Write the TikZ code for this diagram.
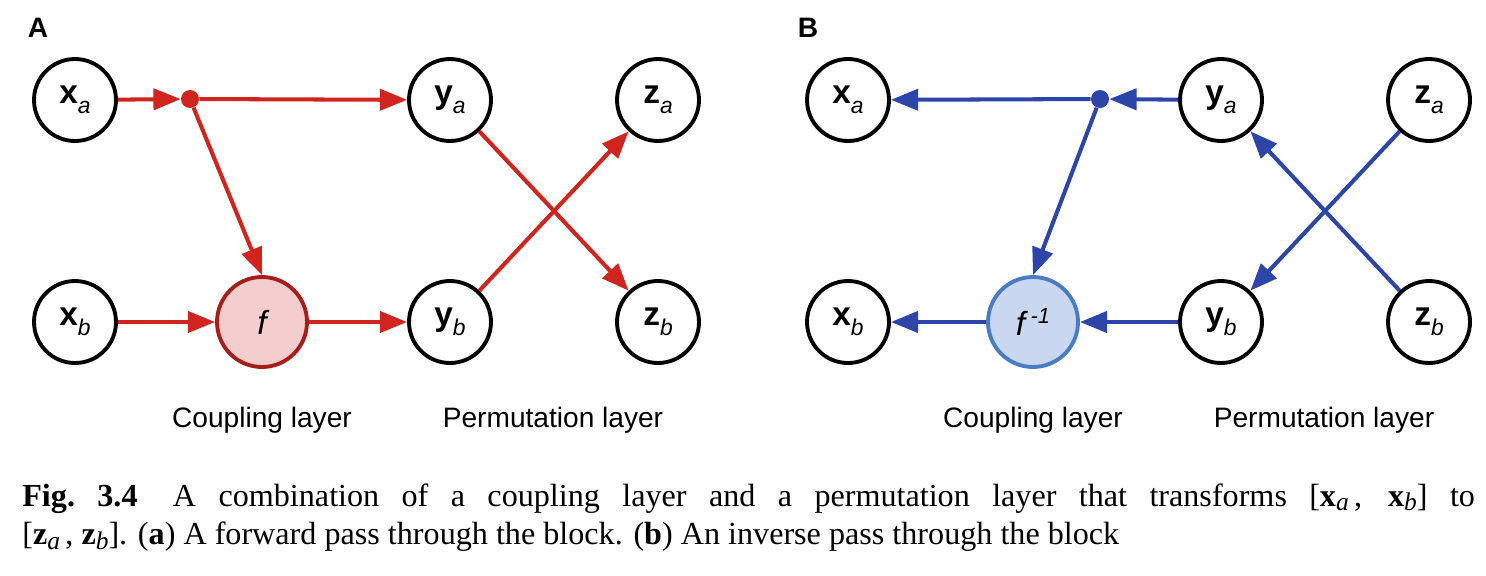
\documentclass[tikz,border=0pt]{standalone}
\usepackage{fontspec}
\setmainfont{Liberation Serif}
\setsansfont{Liberation Sans}
\usepackage{tikz}
\usetikzlibrary{positioning, arrows.meta}
\definecolor{FwdRed}{RGB}{208,36,30}
\definecolor{FwdFill}{RGB}{244,206,206}
\definecolor{FwdEdge}{RGB}{165,30,25}
\definecolor{InvBlue}{RGB}{45,68,168}
\definecolor{InvFill}{RGB}{201,216,240}
\definecolor{InvEdge}{RGB}{72,125,196}
\newcommand{\vlab}[2]{{\fontsize{19}{19}\selectfont\bfseries #1}\raisebox{-6pt}{\fontsize{13}{13}\selectfont\itshape #2}}
\newcommand{\cvec}[2]{\textbf{#1}\raisebox{-0.3ex}{\fontsize{14.5}{14.5}\selectfont\itshape #2}}
\tikzset{
  var/.style={draw=black, line width=2.2pt, circle, minimum size=1.64cm, inner sep=0pt,
    fill=white, font=\sffamily},
  fnode/.style={circle, line width=2.2pt, minimum size=1.8cm, inner sep=0pt,
    font=\sffamily\fontsize{19}{19}\selectfont\itshape},
  fwdfun/.style={fnode, draw=FwdEdge, fill=FwdFill},
  invfun/.style={fnode, draw=InvEdge, fill=InvFill},
  split/.style={circle, inner sep=0pt, minimum size=0.36cm},
  fwd/.style={-{Triangle[length=15.5pt, width=12pt]}, line width=2.3pt, FwdRed},
  inv/.style={-{Triangle[length=15.5pt, width=12pt]}, line width=2.3pt, InvBlue},
  panel/.style={font=\sffamily\bfseries\fontsize{16}{16}\selectfont},
  layer/.style={font=\sffamily\fontsize{16}{16}\selectfont},
  caption/.style={text width=29.06cm, align=justify, inner sep=0pt,
    font=\fontsize{18.3}{22}\selectfont},
}

\begin{document}
\begin{tikzpicture}[x=0.02cm, y=-0.02cm]
  \useasboundingbox (0,0) rectangle (1486,575);
  % forward pass
  \node[panel] (labA) at (38,28) {A};
  \node[var] (xaA) at (75,100) {\vlab{x}{a}};
  \node[var] (xbA) at (75,322) {\vlab{x}{b}};
  \node[split, fill=FwdRed] (dotA) at (190,99) {};
  \node[fwdfun] (fA) at (262,322) {f};
  \node[var] (yaA) at (450,100) {\vlab{y}{a}};
  \node[var] (ybA) at (450,322) {\vlab{y}{b}};
  \node[var] (zaA) at (658,100) {\vlab{z}{a}};
  \node[var] (zbA) at (658,322) {\vlab{z}{b}};
  \node[layer] (coupA) at (262,420) {Coupling layer};
  \node[layer] (permA) at (553,420) {Permutation layer};
  \draw[fwd] (xaA) -- (dotA);
  \draw[fwd] (dotA) -- (yaA);
  \draw[fwd] (dotA) -- (fA.north);
  \draw[fwd] (xbA) -- (fA);
  \draw[fwd] (fA) -- (ybA);
  \draw[fwd] (yaA) -- (zbA);
  \draw[fwd] (ybA) -- (zaA);
  % inverse pass
  \node[panel] (labB) at (808,28) {B};
  \node[var] (xaB) at (848,100) {\vlab{x}{a}};
  \node[var] (xbB) at (848,322) {\vlab{x}{b}};
  \node[split, fill=InvBlue] (dotB) at (1100,99) {};
  \node[invfun] (fB) at (1033,322) {f\,\raisebox{7pt}{\fontsize{12.5}{12.5}\selectfont -1}};
  \node[var] (yaB) at (1221,100) {\vlab{y}{a}};
  \node[var] (ybB) at (1221,322) {\vlab{y}{b}};
  \node[var] (zaB) at (1429,100) {\vlab{z}{a}};
  \node[var] (zbB) at (1429,322) {\vlab{z}{b}};
  \node[layer] (coupB) at (1033,420) {Coupling layer};
  \node[layer] (permB) at (1324,420) {Permutation layer};
  \draw[inv] (yaB) -- (dotB);
  \draw[inv] (dotB) -- (xaB);
  \draw[inv] (dotB) -- (fB.north);
  \draw[inv] (ybB) -- (fB);
  \draw[inv] (fB) -- (xbB);
  \draw[inv] (zaB) -- (ybB);
  \draw[inv] (zbB) -- (yaB);
  % caption
  \node[caption, anchor=north west] (cap) at (22,483) {\textbf{Fig.~3.4}\hspace{1.1em}A combination
    of a coupling layer and a permutation layer that transforms {[}\cvec{x}{a}\,, \cvec{x}{b}{]} to\linebreak{}
    {[}\cvec{z}{a}\,, \cvec{z}{b}{]}. (\textbf{a}) A forward pass through the block. (\textbf{b}) An inverse
    pass through the block};
\end{tikzpicture}
\end{document}
